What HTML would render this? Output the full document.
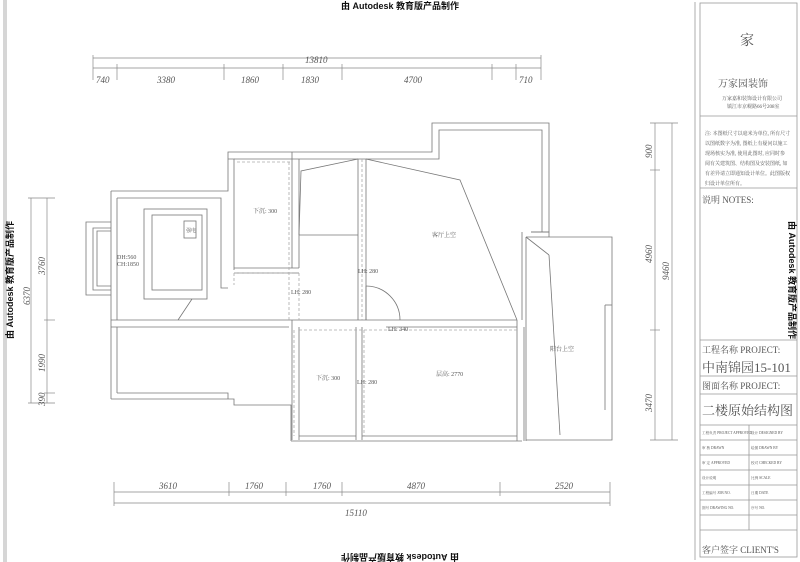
<!DOCTYPE html>
<html><head><meta charset="utf-8"><style>
html,body{margin:0;padding:0;background:#fff;}
svg{display:block;}
text{font-family:"Liberation Serif","Noto Serif CJK SC",serif;fill:#555;}
.w{font-family:"Liberation Sans","Noto Sans CJK SC",sans-serif;fill:#111;font-weight:bold;}
</style></head><body>
<svg width="800" height="562" viewBox="0 0 800 562" xmlns="http://www.w3.org/2000/svg">
<rect width="800" height="562" fill="#fff"/>
<g stroke="#999" stroke-width="0.8" fill="none">
<line x1="4" y1="0" x2="4" y2="562"/><line x1="6" y1="0" x2="6" y2="562"/>
<line x1="695" y1="2" x2="695" y2="560"/>
<rect x="700" y="3" width="97" height="554"/>
<line x1="700" y1="116" x2="797" y2="116"/>
<line x1="700" y1="188" x2="797" y2="188"/>
<line x1="700" y1="340" x2="797" y2="340"/>
<line x1="700" y1="376" x2="797" y2="376"/>
<line x1="700" y1="394" x2="797" y2="394"/>
<line x1="700" y1="425" x2="797" y2="425"/>
<line x1="700" y1="440" x2="797" y2="440"/><line x1="700" y1="455" x2="797" y2="455"/>
<line x1="700" y1="470" x2="797" y2="470"/><line x1="700" y1="485" x2="797" y2="485"/>
<line x1="700" y1="500" x2="797" y2="500"/><line x1="700" y1="515" x2="797" y2="515"/>
<line x1="700" y1="530" x2="797" y2="530"/>
<line x1="749" y1="425" x2="749" y2="530"/>
</g>
<g stroke="#777" stroke-width="0.8" fill="none">
<polyline points="111,191 228,191 228,152 432,152 432,123 549,123 549,232 531,232"/>
<polyline points="117,198 221,198 221,288 228,288"/>
<polyline points="228,159 234,159 234,270"/>
<polyline points="234,159 432,159 439,159 439,130 542,130 542,232"/>
<line x1="111" y1="191" x2="111" y2="399"/>
<line x1="117" y1="198" x2="117" y2="320"/>
<line x1="117" y1="327" x2="117" y2="393"/>
<polyline points="111,399 234,399 234,405 291,405 291,441"/>
<polyline points="117,393 228,393 228,399"/>
<line x1="111" y1="320" x2="517" y2="320"/><line x1="111" y1="327" x2="289" y2="327"/>
<line x1="386" y1="327" x2="517" y2="327"/>
<polyline points="111,222 86,222 86,295 111,295"/>
<polyline points="111,228 93,228 93,290 111,290"/>
<polyline points="111,231 97,231 97,286 111,286"/>
<line x1="292" y1="152" x2="292" y2="268"/><line x1="299" y1="159" x2="299" y2="268"/>
<line x1="292" y1="320" x2="292" y2="440"/><line x1="299" y1="327" x2="299" y2="440"/>
<line x1="358" y1="159" x2="358" y2="320"/><line x1="366" y1="159" x2="366" y2="320"/>
<line x1="356" y1="327" x2="356" y2="440"/><line x1="362" y1="327" x2="362" y2="440"/>
<line x1="234" y1="268" x2="299" y2="268"/><line x1="234" y1="273" x2="299" y2="273"/>
<line x1="291" y1="441" x2="522" y2="441"/><line x1="299" y1="436" x2="356" y2="436"/>
<line x1="362" y1="436" x2="517" y2="436"/>
<line x1="517" y1="320" x2="517" y2="441"/><line x1="524" y1="327" x2="524" y2="441"/>
<line x1="522" y1="232" x2="522" y2="320"/><line x1="526" y1="237" x2="526" y2="441"/>
<polyline points="526,237 612,237 612,440 526,440"/>
<polyline points="531,232 549,232 549,237"/>
<line x1="526" y1="237" x2="549" y2="255"/>
<line x1="549" y1="255" x2="560" y2="435"/>
<line x1="605" y1="305" x2="612" y2="305"/><line x1="605" y1="305" x2="605" y2="410"/>
<polyline points="358,159 301,171 299,235"/>
<polyline points="366,159 460,180 517,320"/>
<line x1="299" y1="235" x2="358" y2="235"/>
<rect x="144" y="209" width="63" height="90"/>
<rect x="152" y="215" width="50" height="75"/>
<rect x="184" y="221" width="12" height="17"/>
<path d="M366 286 A34 34 0 0 1 400 320"/><line x1="366" y1="286" x2="366" y2="320"/>
<line x1="192" y1="299" x2="178" y2="320"/>
</g>
<g stroke="#aaa" stroke-width="0.8" fill="none" stroke-dasharray="3,2">
<line x1="237" y1="162" x2="292" y2="162"/>
<line x1="289" y1="162" x2="289" y2="320"/>
<line x1="234" y1="273" x2="292" y2="273"/>
<line x1="234" y1="273" x2="234" y2="285"/>
<line x1="299" y1="273" x2="299" y2="320"/>
<line x1="362" y1="159" x2="362" y2="320"/>
<line x1="299" y1="330" x2="517" y2="330"/>
<line x1="364" y1="330" x2="364" y2="436"/>
<line x1="294" y1="330" x2="294" y2="436"/>
</g>
<g stroke="#888" stroke-width="0.7">
<line x1="93" y1="68" x2="541" y2="68"/><line x1="93" y1="58" x2="541" y2="58"/>
<line x1="93" y1="55" x2="93" y2="80"/><line x1="117" y1="64" x2="117" y2="80"/>
<line x1="224" y1="64" x2="224" y2="80"/><line x1="283" y1="64" x2="283" y2="80"/>
<line x1="342" y1="64" x2="342" y2="80"/><line x1="492" y1="64" x2="492" y2="80"/>
<line x1="516" y1="64" x2="516" y2="80"/><line x1="541" y1="55" x2="541" y2="80"/>
<line x1="114" y1="492" x2="610" y2="492"/><line x1="114" y1="503" x2="610" y2="503"/>
<line x1="114" y1="482" x2="114" y2="506"/><line x1="229" y1="482" x2="229" y2="496"/>
<line x1="286" y1="482" x2="286" y2="496"/><line x1="342" y1="482" x2="342" y2="496"/>
<line x1="500" y1="482" x2="500" y2="496"/><line x1="610" y1="482" x2="610" y2="506"/>
<line x1="31" y1="198" x2="31" y2="403"/><line x1="47" y1="198" x2="47" y2="403"/>
<line x1="28" y1="198" x2="55" y2="198"/><line x1="44" y1="320" x2="55" y2="320"/>
<line x1="44" y1="393" x2="55" y2="393"/><line x1="28" y1="403" x2="55" y2="403"/>
<line x1="655" y1="123" x2="655" y2="440"/><line x1="672" y1="123" x2="672" y2="440"/>
<line x1="650" y1="123" x2="678" y2="123"/><line x1="650" y1="170" x2="660" y2="170"/>
<line x1="650" y1="330" x2="660" y2="330"/><line x1="650" y1="440" x2="678" y2="440"/>
</g>
<g font-size="9" font-style="italic">
<text x="96" y="83">740</text><text x="157" y="83">3380</text><text x="241" y="83">1860</text>
<text x="301" y="83">1830</text><text x="404" y="83">4700</text><text x="519" y="83">710</text>
<text x="305" y="63">13810</text>
<text x="159" y="489">3610</text><text x="245" y="489">1760</text><text x="313" y="489">1760</text>
<text x="407" y="489">4870</text><text x="555" y="489">2520</text><text x="345" y="516">15110</text>
<text transform="translate(45,275) rotate(-90)">3760</text>
<text transform="translate(30,305) rotate(-90)">6370</text>
<text transform="translate(45,372) rotate(-90)">1990</text>
<text transform="translate(45,406) rotate(-90)">390</text>
<text transform="translate(652,158) rotate(-90)">900</text>
<text transform="translate(652,263) rotate(-90)">4960</text>
<text transform="translate(669,280) rotate(-90)">9460</text>
<text transform="translate(652,412) rotate(-90)">3470</text>
</g>
<g font-size="6">
<text x="253" y="213">下沉: 300</text><text x="432" y="237">客厅上空</text>
<text x="117" y="259">DH:560</text><text x="117" y="266">CH:1850</text>
<text x="186" y="232" font-size="5">强电</text>
<text x="358" y="273">LH: 280</text><text x="291" y="294">LH: 280</text>
<text x="388" y="331">LH: 340</text><text x="316" y="380">下沉: 300</text>
<text x="357" y="384">LH: 280</text><text x="436" y="376">层高: 2770</text>
<text x="550" y="351">阳台上空</text>
</g>
<g font-size="5" fill="#777">
<text x="740" y="45" font-size="14" fill="#ccc">家</text>
<text x="718" y="87" font-size="10" fill="#888">万家园装饰</text>
<text x="722" y="100">万家嘉和装饰设计有限公司</text>
<text x="727" y="108">镇江市京岘路66号208室</text>
<text x="705" y="135">注: 本图纸尺寸以毫米为单位, 所有尺寸</text>
<text x="705" y="145">以图纸数字为准, 图纸上有疑问以施工</text>
<text x="705" y="155">现场核实为准, 使用此图时, 应同时参</text>
<text x="705" y="165">阅有关建筑图、结构图及安装图纸, 如</text>
<text x="705" y="175">有差异请立即通知设计单位。此图版权</text>
<text x="705" y="185">归设计单位所有。</text>
</g>
<g font-size="3.6" fill="#777">
<text x="702" y="434">工程负责 PROJECT APPROVED</text><text x="751" y="434">设计 DESIGNED BY</text>
<text x="702" y="449">审 核 DRAWN</text><text x="751" y="449">绘图 DRAWN BY</text>
<text x="702" y="464">审 定 APPROVED</text><text x="751" y="464">校对 CHECKED BY</text>
<text x="702" y="479">设计说明</text><text x="751" y="479">比例 SCALE</text>
<text x="702" y="494">工程编号 JOB NO.</text><text x="751" y="494">日期 DATE</text>
<text x="702" y="509">图号 DRAWING NO.</text><text x="751" y="509">序号 NO.</text>
</g>
<g fill="#444">
<text x="702" y="203" font-size="9">说明  NOTES:</text>
<text x="702" y="353" font-size="9">工程名称 PROJECT:</text>
<text x="702" y="372" font-size="13">中南锦园15-101</text>
<text x="702" y="389" font-size="9">图面名称 PROJECT:</text>
<text x="702" y="415" font-size="13">二楼原始结构图</text>
<text x="702" y="553" font-size="9">客户签字 CLIENT'S</text>
</g>
<g font-size="9">
<text class="w" x="400" y="9" text-anchor="middle">由 Autodesk 教育版产品制作</text>
<text class="w" transform="translate(400,554) rotate(180)" text-anchor="middle">由 Autodesk 教育版产品制作</text>
<text class="w" transform="translate(13,280) rotate(-90)" text-anchor="middle">由 Autodesk 教育版产品制作</text>
<text class="w" transform="translate(789,280) rotate(90)" text-anchor="middle">由 Autodesk 教育版产品制作</text>
</g>
</svg>
</body></html>
